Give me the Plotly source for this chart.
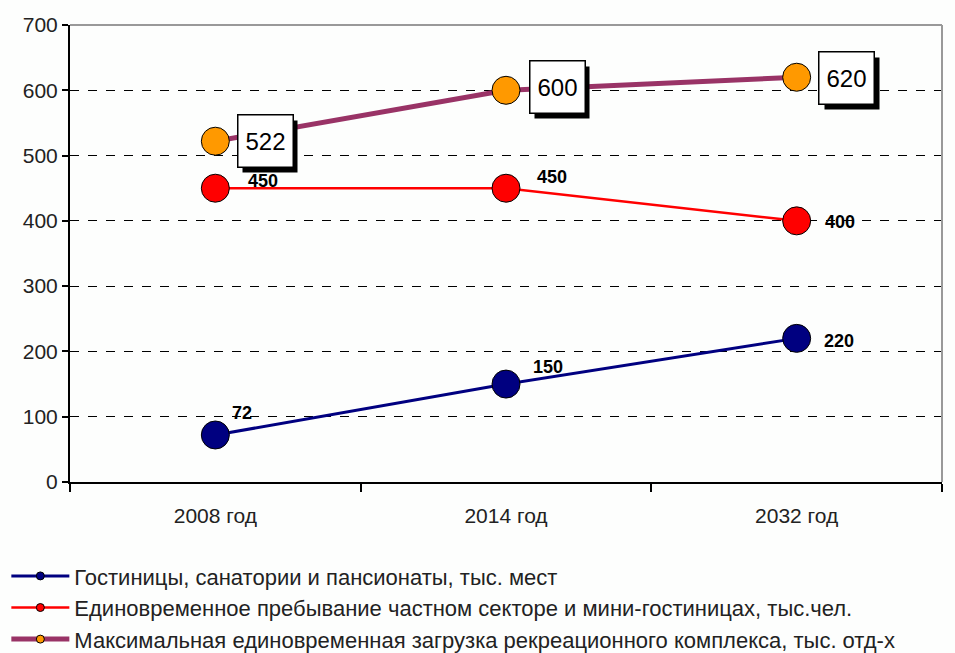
import plotly.graph_objects as go

# категории и ряды
years = ["2008 год", "2014 год", "2032 год"]
hotels = [72, 150, 220]
private = [450, 450, 400]
max_load = [522, 600, 620]

names = [
    "Гостиницы, санатории и пансионаты, тыс. мест",
    "Единовременное пребывание частном секторе и мини-гостиницах, тыс.чел.",
    "Максимальная единовременная загрузка рекреационного комплекса, тыс. отд-х",
]

FONT = "Arial, Liberation Sans, sans-serif"
# (цвет линии, толщина, цвет маркера)
STYLE = [("#000080", 3, "#000080"), ("#FF0000", 2.5, "#FF0000"), ("#993366", 5, "#FF9900")]
# смещения подписей (px) для каждого ряда / точки
SHIFT_HOT = [(27, 22), (42, 17), (42, -3)]
SHIFT_PRV = [(48, 7), (46, 11), (43, -1)]
SHIFT_MAX = [(50, 0), (51, 3), (50, -1)]

fig = go.Figure()
series = [hotels, private, max_load]
for vals, nm, (lc, lw, mc) in zip(series, names, STYLE):
    fig.add_trace(go.Scatter(
        x=years, y=vals, mode="lines+markers", showlegend=False,
        line=dict(color=lc, width=lw),
        marker=dict(size=28, color=mc, line=dict(color="black", width=1)),
    ))
# отдельные трассы только для легенды (маленький маркер)
for nm, (lc, lw, mc) in zip(names, STYLE):
    fig.add_trace(go.Scatter(
        x=[None], y=[None], mode="lines+markers", name=nm,
        line=dict(color=lc, width=lw),
        marker=dict(size=8, color=mc, line=dict(color="black", width=1)),
    ))

# подписи значений: жирные без рамки
for vals, shifts in ((hotels, SHIFT_HOT), (private, SHIFT_PRV)):
    for x, v, (dx, dy) in zip(years, vals, shifts):
        fig.add_annotation(x=x, y=v, text=f"<b>{v}</b>", showarrow=False,
                           xshift=dx, yshift=dy,
                           font=dict(family=FONT, size=18, color="black"))
# подписи в рамке с тенью
for x, v, (dx, dy) in zip(years, max_load, SHIFT_MAX):
    fig.add_annotation(x=x, y=v, text="", showarrow=False,
                       xshift=dx + 5, yshift=dy - 5, width=52, height=49,
                       bgcolor="black", borderpad=1,
                       font=dict(family=FONT, size=22))
    fig.add_annotation(x=x, y=v, text=str(v), showarrow=False,
                       xshift=dx, yshift=dy, width=52, height=49,
                       bgcolor="white", bordercolor="black", borderwidth=1.5,
                       borderpad=1, font=dict(family=FONT, size=24, color="black"))

# верхняя и правая рамки
fig.add_shape(type="line", xref="paper", yref="paper", x0=0, x1=1, y0=1, y1=1,
              line=dict(color="#999999", width=2))
fig.add_shape(type="line", xref="paper", yref="paper", x0=1, x1=1, y0=0, y1=1,
              line=dict(color="#999999", width=2))

fig.update_xaxes(range=[-0.5, 2.5], showline=True, linecolor="black", linewidth=2,
                 ticks="outside", tickson="boundaries", ticklen=8, tickwidth=2,
                 tickcolor="black", showgrid=False, ticklabelstandoff=14,
                 automargin=False,
                 tickfont=dict(family=FONT, size=21, color="#222222"))
fig.update_yaxes(range=[0, 700], dtick=100, showline=True, linecolor="black",
                 linewidth=2, ticks="outside", ticklen=6, tickwidth=2,
                 tickcolor="black", showgrid=True, gridcolor="black", gridwidth=1,
                 griddash="dash", zeroline=False, automargin=False,
                 tickfont=dict(family=FONT, size=21, color="#222222"))

fig.update_layout(
    width=955, height=653,
    margin=dict(l=70, r=13, t=25, b=171, autoexpand=False),
    plot_bgcolor="#FDFEFD", paper_bgcolor="#FDFEFD",
    font=dict(family=FONT),
    legend=dict(x=-0.073, y=-0.16, xanchor="left", yanchor="top",
                orientation="v", itemwidth=58, tracegroupgap=0,
                font=dict(family=FONT, size=22, color="#222222"),
                bgcolor="rgba(0,0,0,0)"),
)

# убрать отступ body, чтобы график начинался с (0,0)
fig.write_html("out.html", config={"displayModeBar": False},
               post_script="document.body.style.margin='0';")
